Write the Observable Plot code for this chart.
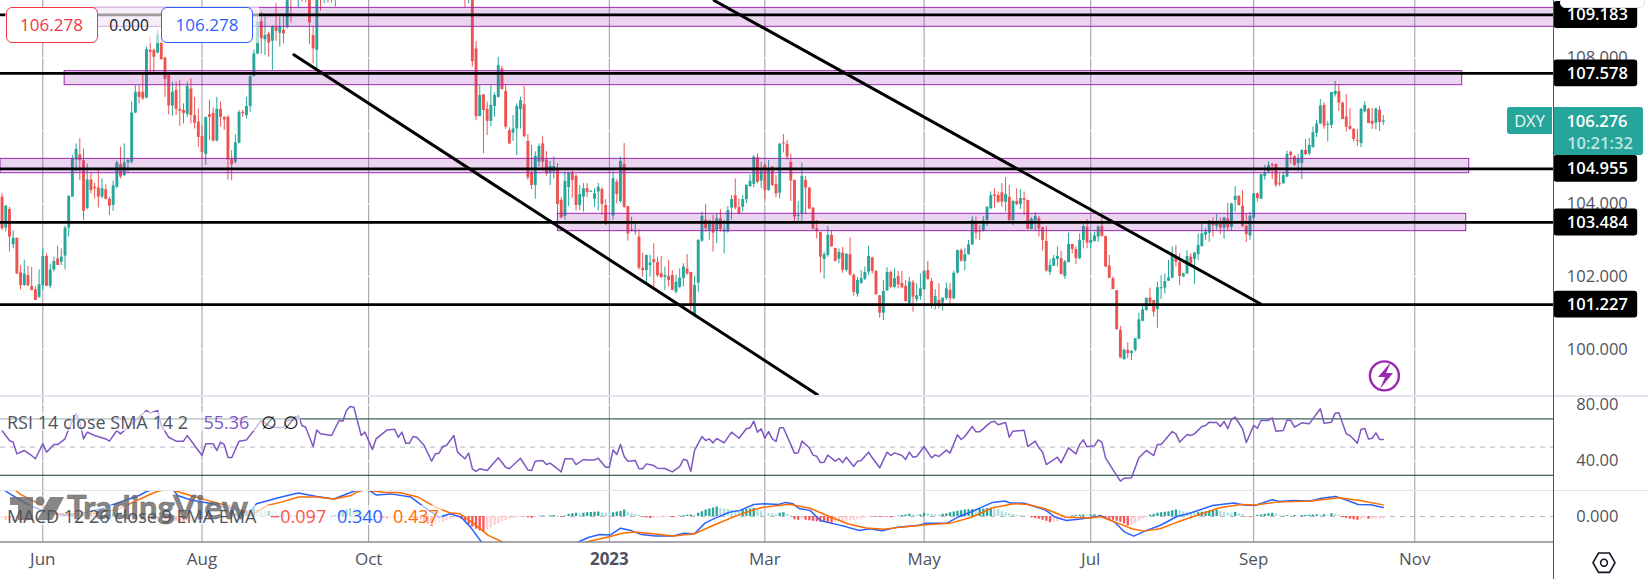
<!DOCTYPE html>
<html><head><meta charset="utf-8">
<script src="https://cdn.jsdelivr.net/npm/d3@7"></script>
<script src="https://cdn.jsdelivr.net/npm/@observablehq/plot@0.6"></script>
<style>
html,body{margin:0;padding:0;background:#fff}
#page{position:relative;width:1648px;height:579px;overflow:hidden;font-family:"Open Sans",sans-serif}
#page svg.plot{display:block}
.ab{position:absolute;white-space:nowrap;line-height:1}
</style></head><body><div id="page"><div id="charts"></div></div>
<script>
// ---- axis and tick data
const firstBar = -11;
const tickBars = [0,43,88,153,195,238,283,327,370.5];
const tickLabels = ["Jun","Aug","Oct","2023","Mar","May","Jul","Sep","Nov"];
const priceTicks = [100,102,104,108];
const rsiTicks = [40,80];
const macdTicks = [0];
const levels = [109.183,107.578,104.955,103.484,101.227];
// bars 80..113 traded above the top of the visible pane
const offView = Array(34).fill(null);
const opens = [
104.18,103.33,103.84,102.87,103.05,102.1,101.75,102.02,101.72,101.63,
101.43,101.75,102.55,101.73,102.18,102.48,102.39,102.56,103.33,104.18,
105.2,105.34,105.18,103.87,104.65,104.45,104.43,104.18,104.38,104.12,
103.95,104.45,105.07,104.77,105.12,105.14,106.49,107.06,107.06,106.9,
108.21,108.21,108.14,108.43,108.0,107.52,106.68,107.11,106.59,106.56,
106.45,107.15,106.42,106.24,105.84,105.35,106.44,106.48,105.72,106.59,
106.37,106.37,105.21,105.14,105.66,106.51,106.42,106.67,107.49,108.11,
109.0,108.5,108.66,108.46,108.85,108.68,108.76,108.83,110.1,109.75,
109.75,110.1,109.9,110,108.62,108.21,110.4,110,110.2,110.1,109.9,
...offView,
110.1,109.9,110.2,108.25,106.39,106.99,106.59,106.26,106.67,106.92,
107.7,107.08,106.01,105.94,106.05,106.58,106.72,105.71,104.84,104.5,
105.14,105.64,105.2,104.84,104.87,104.96,104.09,103.65,104.44,104.84,
104.75,103.95,104.18,104.41,104.33,104.12,104.32,104.39,103.95,null,
103.66,104.59,104.06,105.08,103.92,103.28,103.22,103.08,102.23,102.16,
102.3,102.46,102.38,102.08,101.98,102.0,102.03,101.57,101.7,101.94,
102.2,102.11,100.95,101.82,102.97,103.54,103.26,103.45,103.26,103.58,
103.22,103.22,103.88,104.22,103.89,103.9,104.11,104.47,104.53,105.26,
104.62,105.05,104.36,105.0,104.53,104.29,105.67,105.63,105.13,104.64,
103.66,103.72,104.64,104.43,103.88,103.31,103.21,102.47,102.58,103.13,
102.77,102.47,102.64,102.17,102.6,102.03,101.51,101.81,101.92,102.12,
102.51,102.14,101.47,100.99,101.6,102.11,101.7,102.0,101.81,101.73,
101.25,101.83,101.36,101.45,101.64,102.16,101.86,101.25,101.34,101.27,
101.4,101.62,101.39,102.09,102.71,102.41,102.6,102.87,103.45,103.26,
103.24,103.54,103.86,104.24,104.22,104.3,104.04,104.17,103.54,104.06,
103.97,104.14,104.09,103.29,103.52,103.59,103.34,102.96,102.11,102.28,
102.47,102.49,102.0,102.38,102.88,102.74,102.49,102.99,103.35,102.91,
102.96,103.08,103.37,103.1,102.29,101.94,101.61,100.52,99.72,99.97,
99.88,99.97,100.28,100.77,101.06,101.41,101.34,101.09,101.68,101.68,
101.87,101.95,102.55,102.38,101.98,102.07,102.53,102.47,102.6,102.82,
103.13,103.19,103.47,103.37,103.45,103.33,103.58,103.35,104.09,104.2,
103.93,103.38,103.11,103.6,104.27,104.12,104.75,104.87,105.07,105.08,
104.55,104.55,104.73,105.41,105.29,105.1,105.11,105.46,105.37,105.54,
105.93,106.19,106.7,106.17,106.15,106.99,107.08,106.76,106.38,106.12,
106.04,105.74,105.65,106.52,106.59,106.26,106.21,106.56,106.24];
const closes = [
103.31,103.93,103.08,103.05,102.07,101.75,102.07,101.74,101.61,101.34,
101.77,102.55,101.73,102.18,102.41,102.3,102.53,103.33,104.2,105.23,
105.49,105.18,103.79,104.65,104.36,104.41,104.18,104.41,104.12,103.93,
104.49,105.12,104.73,105.12,105.18,106.49,107.06,106.92,106.88,108.23,
108.16,108.02,108.64,107.96,107.41,106.68,107.06,106.59,106.54,106.48,
107.22,106.42,106.21,105.82,105.41,106.37,106.37,105.72,106.59,106.37,
106.3,105.2,105.07,105.67,106.5,106.47,106.67,107.49,108.11,108.98,
108.53,108.62,108.41,108.85,108.73,108.85,108.66,109.9,109.75,110.0,
109.9,109.8,109.75,108.96,108.25,110.2,110.0,110.3,110.0,109.9,110.5,
...offView,
109.9,110.2,107.9,106.39,106.97,106.56,106.26,106.7,106.97,107.79,
107.13,106.1,105.64,106.05,106.67,106.83,105.84,104.71,104.5,105.3,
105.57,105.14,104.82,105.02,105.02,103.98,103.61,104.61,104.84,104.64,
103.95,104.25,104.41,104.31,104.34,104.27,104.45,103.98,103.43,null,
104.68,104.25,105.16,103.9,103.17,103.24,103.25,102.23,102.16,102.58,
102.37,102.38,102.02,101.97,102.03,101.89,101.62,101.84,101.95,102.26,
102.07,101.2,101.75,102.99,103.65,103.31,103.52,103.19,103.58,103.29,
103.28,103.81,104.11,103.88,103.72,104.11,104.5,104.61,105.28,104.59,
104.89,104.36,104.94,104.5,104.27,105.63,105.66,105.28,104.62,103.63,
103.68,104.75,104.43,103.85,103.3,103.23,102.53,102.6,103.13,102.82,
102.42,102.66,102.17,102.61,102.04,101.56,101.89,101.94,102.11,102.55,
102.14,101.5,100.99,101.59,102.11,101.7,101.94,101.77,101.69,101.31,
101.85,101.43,101.47,101.66,102.14,101.92,101.25,101.45,101.25,101.4,
101.66,101.39,102.09,102.71,102.42,102.6,102.87,103.54,103.19,103.22,
103.52,103.9,104.22,104.2,104.04,104.04,104.25,103.54,104.06,103.97,
104.14,104.09,103.29,103.57,103.65,103.3,102.99,102.15,102.3,102.49,
102.55,102.05,102.4,102.88,102.74,102.49,102.99,103.37,102.92,102.99,
103.11,103.35,103.1,102.26,101.95,101.64,100.54,99.76,99.97,99.88,
99.94,100.29,100.81,101.08,101.4,101.27,101.02,101.69,101.69,101.86,
101.96,102.55,102.39,102.0,102.07,102.55,102.35,102.64,102.85,103.17,
103.22,103.52,103.4,103.49,103.33,103.61,103.34,103.99,104.2,103.95,
103.37,103.15,103.65,104.27,104.14,104.8,104.84,105.04,105.04,104.5,
104.53,104.77,105.35,105.32,105.05,105.23,105.46,105.35,105.6,105.95,
106.19,106.68,106.13,106.18,107.05,107.08,106.76,106.31,106.1,106.04,
105.76,105.73,106.59,106.7,106.2,106.18,106.59,106.23,106.276];
const highs = [
104.27,103.95,103.9,103.26,103.05,102.3,102.45,102.28,102.25,101.72,
102.18,102.76,102.62,102.34,102.53,102.83,102.76,103.38,104.22,105.32,
105.64,105.78,105.5,105.09,104.86,104.56,104.93,104.68,104.52,104.18,
104.62,105.17,105.55,105.64,105.23,106.79,107.24,107.24,107.55,108.3,
108.57,108.25,108.76,108.57,108.02,107.52,107.34,107.34,107.38,106.74,
107.34,107.43,106.92,106.6,106.15,106.37,106.83,106.63,106.92,106.79,
106.39,106.42,105.46,105.89,106.56,106.56,106.92,107.52,108.22,109.21,
109.26,109.12,108.71,108.89,109.49,109.12,109.14,110.0,110.2,110.3,
110.2,110.4,110.2,110.3,108.85,110.5,110.7,110.6,110.5,110.3,110.8,
...offView,
110.4,110.4,110.4,108.45,107.24,106.99,106.79,107.24,107.03,108.02,
107.77,107.24,106.08,106.42,106.74,106.92,107.22,105.9,105.6,105.42,
105.64,105.84,105.43,105.16,105.28,105.1,104.16,104.87,104.87,104.91,
104.8,104.5,104.55,104.55,104.36,104.41,104.56,104.44,104.11,null,
104.87,104.66,105.28,105.65,103.92,103.63,103.45,103.28,102.64,102.58,
102.58,102.9,102.53,102.55,102.26,102.44,102.16,102.03,102.21,102.35,
102.6,102.11,102.0,103.01,103.77,103.98,103.54,103.68,103.72,103.83,
103.54,103.92,104.22,104.68,104.13,104.22,104.52,104.8,105.32,105.37,
105.14,105.09,105.19,105.02,104.77,105.66,105.9,105.74,105.35,104.64,
104.06,105.11,104.75,104.45,103.88,103.54,103.21,102.67,103.37,103.26,
102.77,102.76,102.8,102.62,103.06,102.07,101.98,102.16,102.26,102.83,
102.53,102.16,101.47,101.89,102.24,102.16,102.21,102.14,102.14,101.89,
101.98,101.89,101.8,102.07,102.18,102.41,101.94,101.64,101.8,101.41,
101.82,101.8,102.15,102.72,102.76,102.76,102.99,103.65,103.63,103.4,
103.65,103.92,104.32,104.41,104.32,104.55,104.71,104.5,104.09,104.41,
104.38,104.32,104.09,103.61,103.75,103.65,103.35,103.37,102.46,102.58,
102.81,102.69,102.44,103.19,102.88,102.81,103.17,103.45,103.56,103.17,
103.22,103.4,103.63,103.1,102.58,101.98,101.61,100.63,100.01,100.18,
99.97,100.29,100.99,101.2,101.41,101.68,101.34,101.84,102.03,102.07,
102.44,102.81,102.85,102.62,102.09,102.71,102.62,102.67,103.17,103.45,
103.31,103.54,103.61,103.7,103.61,103.61,104.01,104.01,104.47,104.22,
104.36,103.72,103.76,104.27,104.29,104.8,105.05,105.15,105.1,105.08,
104.82,104.87,105.44,105.44,105.32,105.35,105.48,105.76,105.79,106.1,
106.29,106.86,106.77,106.26,107.06,107.36,107.27,106.79,106.99,106.61,
106.06,106.04,106.61,106.8,106.62,106.61,106.63,106.67,106.42];
const lows = [
103.26,103.22,102.67,102.76,102.05,101.63,101.73,101.73,101.61,101.34,
101.4,101.61,101.73,101.66,102.12,102.3,102.3,102.18,103.08,104.18,
104.86,104.63,103.54,103.83,104.27,104.13,103.88,104.13,104.11,103.67,
103.79,104.41,104.68,104.74,104.82,105.09,106.47,106.74,106.83,106.88,
107.52,107.52,108.11,107.93,106.92,106.44,106.4,106.42,106.13,106.19,
106.37,106.19,106.05,105.55,105.23,105.05,105.73,105.69,105.69,106.1,
106.01,104.65,104.63,105.09,105.64,106.37,106.33,106.51,107.49,108.09,
108.11,108.07,108.02,107.66,108.46,108.3,108.39,108.8,108.96,109.65,
109.38,109.53,109.53,108.37,107.84,107.66,109.29,109.49,109.51,109.51,109.4,
...offView,
109.38,109.49,107.75,106.28,106.39,105.37,105.87,106.12,106.37,106.9,
107.13,106.04,105.62,105.71,105.32,106.05,105.81,104.64,104.38,104.12,
105.0,104.89,104.75,104.5,104.68,103.68,103.58,103.54,103.92,104.15,
103.79,103.81,103.77,104.16,104.32,103.9,103.8,103.68,103.4,null,
103.54,104.0,104.01,103.86,102.97,103.22,103.13,102.17,101.98,101.75,
101.98,101.66,101.98,101.94,101.61,101.71,101.6,101.52,101.66,101.71,
102.03,101.06,100.87,101.57,102.94,103.22,102.99,102.67,102.9,103.22,
102.62,103.19,103.54,103.83,103.7,103.77,104.0,104.44,104.44,104.55,
104.41,104.11,104.34,104.47,104.16,104.13,105.39,105.19,104.06,103.51,
103.52,103.49,103.7,103.83,103.28,103.03,102.09,101.92,102.53,102.8,
102.39,102.35,102.09,102.12,102.01,101.46,101.43,101.78,101.89,102.03,
102.07,101.48,100.85,100.79,101.6,101.66,101.66,101.66,101.66,101.29,
101.23,101.02,101.29,101.34,101.62,101.89,101.11,101.08,101.11,101.05,
101.34,101.25,101.36,102.07,102.39,102.16,102.58,102.85,103.01,102.99,
103.22,103.37,103.84,103.88,104.01,103.9,103.77,103.51,103.4,103.95,
103.84,103.68,103.29,103.28,103.26,103.08,102.7,102.12,102.03,102.28,
102.26,102.05,101.92,102.38,102.62,102.33,102.46,102.76,102.76,102.76,
102.94,102.94,103.08,102.24,101.94,101.63,100.52,99.74,99.69,99.74,
99.69,99.92,100.26,100.75,101.05,101.2,100.88,100.58,101.37,101.52,
101.87,101.94,102.26,101.75,101.98,102.05,102.26,101.78,102.44,102.81,
102.99,102.94,103.08,103.28,103.15,103.02,103.26,103.25,103.77,103.93,
103.35,102.93,102.99,103.45,104.04,104.11,104.64,104.82,104.66,104.44,
104.47,104.53,104.71,105.09,105.02,104.87,104.66,105.32,105.32,105.53,
105.81,106.17,106.04,105.69,106.07,106.93,106.53,106.31,105.97,106.01,
105.69,105.57,105.54,106.49,106.2,106.04,106.03,105.98,106.15];
// ---- supply/demand zones and trend lines (bar, price)
const zoneBar1 = [13.7,5.9,-11.42,139.1];
const zoneBar2 = [408.1,383.3,385.2,384.4];
const zoneTop = [109.378,107.639,105.23,103.721];
const zoneBottom = [108.857,107.254,104.836,103.245];
const trendA = {bars:[67.8,209.2],prices:[108.09,98.75]};
const trendB = {bars:[181.3,328.8],prices:[109.58,101.25]};
// ---- RSI
const rsiBars = [-11,-9,-8,-7,-5,-3,-2,0,1,3,4,6,7,8,9,10,11,12,14,17,18,20,21,23,25,26,28,29,31,32,34,36,38,39,41,43,44,46,47,48,49,50,51,53,55,57,59,61,62,64,65,66,68,69,70,71,73,74,75,78,80,81,82,83,84,86,87,89,90,93,95,96,97,98,99,100,101,103,105,106,107,108,109,111,112,114,115,116,117,118,120,123,125,126,129,131,132,133,135,136,
137,139,140,141,143,144,146,147,149,150,152,153,154,155,156,157,158,160,161,162,163,165,166,168,170,172,173,174,175,176,178,179,180,181,182,184,186,188,190,191,192,193,194,195,196,197,198,199,200,203,204,205,207,208,209,210,211,212,214,215,216,217,219,220,221,223,224,226,228,229,230,232,233,234,235,236,238,240,241,242,244,245,247,248,249,251,252,253,256,257,258,260,261,262,265,266,268,269,270,271,274,275,277,279,280,281,282,284,285,
286,287,288,291,292,294,296,298,300,301,302,305,306,307,309,310,311,313,314,315,317,318,319,320,321,322,324,325,327,328,329,331,332,333,335,336,337,338,340,342,345,346,348,349,350,352,353,355,356,357,358,359,360,361,362];
const rsiValues = [61.8,54.7,53.5,45.2,47.6,44,41.7,52.3,46.4,51.8,51.8,55.8,63,68.9,73.6,67.7,55.8,60.6,58.2,55.8,54.2,61.8,59.4,64.1,68.9,71.3,76,74.1,76,65.3,57,54.2,54.2,58.2,51.1,44,52.3,52.3,47.6,53.5,51.8,42.8,42.4,54.2,55.1,61.8,68.9,65.3,64.1,63.7,64.1,68.9,69.3,72.4,65.3,64.1,50.4,62.2,59.4,58.2,68.9,68.4,76,78.8,78.3,58.2,60.6,48.3,55.8,62.2,62.7,57,60.6,52.8,52.8,57.5,57,51.1,40,45.2,45.7,50.4,51.1,58.2,46.4,41.7,45.7,34.6,32.7,34.6,33.4,42.4,35.7,34.6,42.1,33.8,33.4,40,40.5,37.6,
38.6,34.6,32.4,41.7,41.7,37.6,41.2,40.9,40.9,42.1,35.7,35.7,48,44.7,51.8,43.3,40,40.5,34.6,34.6,38.1,36.9,35,34.8,32.4,36.2,41.4,40.5,32.7,47.6,57.5,54.7,55.8,53,56.1,53,60.6,56.3,63,63.7,68.4,60.6,63,56.3,61,55.8,54,63.7,63.7,45.7,45.9,54.2,49.5,44.3,43.5,39,39.3,44.3,40,41.9,39,42.8,36.2,40,40.5,46.4,42.4,35.3,46.4,44,45.9,44,41.2,46.4,42.8,43.3,50.4,42.4,44.5,43.3,47.8,45.7,58.7,55.4,57.5,64.6,60.8,60.8,67.7,68.4,65.8,67.5,57,61.3,62,50.4,54.2,49.5,46.4,37.6,42.8,38.8,49.5,45.2,51.8,55.1,50.2,50.9,55.1,
53.5,42.4,38.1,25.8,27.9,28.2,42.4,47.6,44,51.8,51.8,61,59.4,53.5,58.9,58.2,59.4,64.6,65.3,67.7,67.5,64.6,68.2,63,69.6,71.3,63,53.3,65.3,63.4,68.9,68.9,70.8,61.3,61.8,69.3,68.9,64.1,67.2,66.5,77.2,67,67.7,74.1,74.3,59.4,58.2,52.8,62.7,63.2,55.8,56.3,60.1,55.4,55.36];
// ---- MACD
const macdBars = [-11,-9,-4,2,6,10,16,26,28,33,35,36.4,40,45,52,56,57.7,64.4,69,74,78.6,83.3,84,87,89,90,94,99.4,103,107,110,113,115.5,118.4,122,130,140,144.7,147.5,150.4,153.2,156,158.9,161.7,165.5,170.3,173,176,178.8,181.6,185.4,188.3,192,194.9,198.7,200.6,202.5,204.4,207.2,210,212.9,216.7,220.5,223.3,226.6,230.9,236.6,238.5,244.2,247,250.8,256.5,259.8,261.2,265,270.7,273.5,276.4,280.2,284.9,285.6,289.4,292.2,294.6,297.9,301.7,306.4,309.3,315.9,321.6,324.4,327.3,332,333.9,337.7,342.4,345.3,349.1,351.9,355.2,358.6,362];
const macdValues = [1.05,.86,.45,.1,.05,.1,.3,.79,.94,1.15,1.05,.79,.62,.5,.25,.15,.48,.73,.88,.75,.66,.91,.95,1.05,.91,.81,.85,.73,.35,-.03,.1,-.03,-.4,-.95,-1.3,-1.5,-1.35,-.95,-.78,-.68,-.7,-.44,-.53,-.68,-.73,-.73,-.63,-.65,-.25,-.06,.16,.23,.45,.48,.45,.53,.48,.29,.23,-.15,-.25,-.38,-.53,-.46,-.54,-.4,-.33,-.25,-.25,-.03,.18,.53,.58,.51,.5,.25,-.03,-.15,-.09,0,.04,-.21,-.59,-.74,-.53,-.34,.01,.1,.41,.51,.43,.41,.63,.56,.6,.58,.69,.75,.63,.45,.44,.34];
const signalBars = [-11,-7.4,-6,0,2.8,5.6,12,20,28.3,31,34,36.4,39.9,46,52,56.8,60.6,64.4,69.1,73.9,78.6,83.3,84.7,87,91.9,96.6,101.3,106,109.9,112.7,116.5,120.3,124,132,140,147,153.2,156.5,159.8,165.5,170.3,176,181.6,188.3,193.9,201.5,207.2,212.9,217.6,222.4,227.1,231.8,238.5,245.1,250.8,256.5,262.2,266,270.7,276.4,283,285.6,290.3,294.1,297.4,301.7,306.4,313,317.8,323.5,327.3,333,342.4,350,355.7,362];
const signalValues = [1.15,.98,.83,.4,.1,.1,.08,.25,.79,.95,1.03,.94,.79,.55,.33,.1,.41,.54,.73,.73,.66,.79,.91,1,.91,.89,.73,.35,.14,.1,-.28,-.71,-.95,-1.3,-1.25,-.95,-.75,-.63,-.58,-.66,-.73,-.65,-.3,.08,.33,.46,.31,-.03,-.28,-.43,-.48,-.4,-.31,-.25,-.03,.33,.48,.45,.29,-.03,-.06,0,-.25,-.46,-.55,-.46,-.21,.1,.33,.45,.43,.54,.58,.7,.6,.437];
const histValues = [
-.12,-.14,-.16,-.18,-.2,-.22,-.24,-.22,-.2,-.2,-.18,
-.16,-.14,-.12,-.1,-.08,-.05,-.02,.02,.05,.08,
.1,.12,.14,.14,.12,.1,.08,.08,.1,.12,
.12,.14,.12,.1,.08,.04,.02,0,-.02,-.03,
-.05,-.08,-.1,-.12,-.14,-.16,-.18,-.2,-.22,-.2,
-.2,-.18,-.16,-.12,-.1,-.08,-.06,-.04,-.02,0,
.02,.05,.1,.15,.2,.22,.25,.28,.25,.22,
.2,.2,.18,.16,.14,.12,.1,.08,.05,.03,
.02,0,-.01,-.02,-.03,-.02,-.01,0,.02,.05,
.1,.18,.25,.3,.28,.2,.12,.08,.05,.02,
-.02,-.05,-.08,-.1,-.1,-.1,-.08,-.05,-.04,-.04,
-.08,-.1,-.12,-.2,-.3,-.38,-.33,-.28,-.22,-.16,
-.1,-.06,-.04,-.1,-.2,-.3,-.4,-.48,-.55,-.58,
-.5,-.42,-.34,-.27,-.2,-.15,-.1,-.07,-.06,-.04,
-.02,-.05,-.07,-.03,.01,.02,.01,
.03,.04,-.02,-.03,.02,
.08,.1,.12,.1,.12,.14,.15,.16,.17,
.14,.12,.1,
.14,.17,.19,.24,
.16,.12,.08,.04,
-.02,-.06,-.08,-.06,-.06,-.04,-.04,-.03,-.05,
-.02,.02,.03,.05,.06,.05,
.12,.18,.24,.28,.32,.36,.3,.28,.26,.24,
.22,.2,.24,.26,.28,.3,.24,.2,.16,.12,.1,.08,.12,.14,.08,.02,
-.12,-.14,-.12,-.14,-.16,-.18,-.2,-.22,-.24,-.26,-.28,-.22,
-.22,-.2,-.18,-.18,-.16,-.12,-.1,-.06,-.03,
-.02,-.03,-.04,-.02,-.03,-.05,-.02,.02,.04,.06,
.08,.06,.05,.06,.12,.1,.08,.07,.06,.08,.1,
.14,.17,.2,.22,.24,.25,.26,.24,.26,.28,.3,.31,
.28,.26,.2,.14,.1,.08,.06,.04,.03,.02,
-.05,-.08,-.1,-.14,-.18,-.24,
-.22,-.2,-.15,-.1,-.05,
.02,.04,.05,.06,.05,.06,.07,.05,
-.02,-.05,-.1,-.14,-.18,-.22,
-.28,-.36,
-.32,-.25,-.18,-.1,-.05,
.05,.08,.12,.14,.16,.18,.22,.24,
.22,.18,.16,.14,.12,
.14,.16,.18,.2,.22,.24,.2,
.16,.13,.12,.15,.1,
.08,-.02,-.03,-.02,
.05,.06,.08,.1,.12,.1,
.04,.03,.03,.02,.04,.02,.04,.05,.05,.06,.07,.05,.07,.04,.1,.08,.05,
-.05,-.08,-.1,-.12,-.14,-.12,-.07,-.1,-.1,-.1,-.1,-.097];

// ---- styles
const UP="#26a69a", DOWN="#ef5350", GRID="#9b99a8", INK="#50535e", PURPLE="#9c27b0";
const FONT='"Open Sans",sans-serif';
const AXIS_BAR = 419.8, TAG_END = 430.7, PANE_END = 408.1;
const x = {type:"linear",domain:[-11.42,PANE_END],axis:null};
const frame = {width:1648,marginLeft:0,marginRight:94.5,marginTop:0,x,style:{fontFamily:FONT,background:"transparent",overflow:"visible"}};

const bars = opens.map((o,k)=>o==null?null:{bar:k+firstBar,o,c:closes[k],h:highs[k],l:lows[k]}).filter(Boolean);
const colorOf = d=>d.c>=d.o?UP:DOWN;
const pMin = 0.028;
const gridX = Plot.ruleX(tickBars,{stroke:GRID,strokeWidth:1});

const main = Plot.plot({...frame,height:396,marginBottom:0,
  y:{domain:[98.703,109.58],axis:null},
  marks:[
    gridX,
    Plot.ruleY([100,102,104,106,108],{stroke:"#fff",strokeWidth:1}),
    Plot.ruleX(bars,{x:"bar",y1:"l",y2:"h",stroke:colorOf,strokeWidth:1,clip:true}),
    Plot.ruleX(bars,{x:"bar",y1:d=>Math.max(d.o,d.c),y2:d=>Math.min(Math.min(d.o,d.c),Math.max(d.o,d.c)-pMin),stroke:colorOf,strokeWidth:2.9,clip:true}),
    Plot.rect(zoneTop,{x1:(d,i)=>zoneBar1[i],x2:(d,i)=>zoneBar2[i],y1:(d,i)=>zoneBottom[i],y2:d=>d,fill:PURPLE,fillOpacity:.2,stroke:PURPLE,strokeWidth:1,clip:true}),
    Plot.ruleY(levels,{stroke:"#000",strokeWidth:2.8}),
    Plot.line(trendA.bars,{x:d=>d,y:(d,i)=>trendA.prices[i],stroke:"#000",strokeWidth:3,clip:true}),
    Plot.line(trendB.bars,{x:d=>d,y:(d,i)=>trendB.prices[i],stroke:"#000",strokeWidth:3,clip:true}),
    Plot.text(priceTicks,{x:()=>AXIS_BAR,y:d=>d,text:d=>d.toFixed(3),fill:INK,fontSize:16.5}),
    Plot.rect(levels,{x1:()=>PANE_END,x2:()=>TAG_END,y1:d=>d-.37,y2:d=>d+.37,fill:"#000",rx:3}),
    Plot.text(levels,{x:()=>AXIS_BAR,y:d=>d,text:d=>d.toFixed(3),fill:"#fff",fontSize:16.5,fontWeight:600}),
    Plot.dot([{bar:362.3,price:99.27}],{x:"bar",y:"price",r:14.5,stroke:PURPLE,strokeWidth:2.4,fill:"none"})
  ]});

const rsiPane = Plot.plot({...frame,height:94,marginBottom:0,
  y:{domain:[19.2,85.9],axis:null},
  marks:[
    gridX,
    Plot.ruleY(rsiTicks,{stroke:"#fff",strokeWidth:1}),
    Plot.ruleY([70,30],{stroke:"#0d3b33",strokeWidth:1}),
    Plot.ruleY([50],{stroke:"#b2b5be",strokeWidth:1,strokeDasharray:"5,5"}),
    Plot.line(rsiBars,{x:d=>d,y:(d,i)=>rsiValues[i],stroke:"#7e57c2",strokeWidth:1.5,clip:true}),
    Plot.text(rsiTicks,{x:()=>AXIS_BAR,y:d=>d,text:d=>d.toFixed(2),fill:INK,fontSize:16.5})
  ]});

const histColor = (v,i)=>{const p=i>0?histValues[i-1]:v; return v>=0?(v>=p?"#26a69a":"#b2dfdb"):(v<p?"#ff5252":"#ffcdd2");};
const macdPane = Plot.plot({...frame,height:89,marginBottom:37.5,
  y:{domain:[-.959,.977],axis:null},
  marks:[
    gridX,
    Plot.ruleY([0],{stroke:"#b2b5be",strokeWidth:1,strokeDasharray:"5,5"}),
    Plot.ruleX(histValues,{x:(d,i)=>i+firstBar,y1:()=>0,y2:d=>d,stroke:(d,i)=>histColor(d,i),strokeWidth:2.3,clip:true}),
    Plot.line(macdBars,{x:d=>d,y:(d,i)=>macdValues[i],stroke:"#2962ff",strokeWidth:1.5,clip:true}),
    Plot.line(signalBars,{x:d=>d,y:(d,i)=>signalValues[i],stroke:"#ff6d00",strokeWidth:1.5,clip:true}),
    Plot.ruleY([-.959],{stroke:INK,strokeWidth:1}),
    Plot.text(macdTicks,{x:()=>AXIS_BAR,y:d=>d,text:d=>d.toFixed(3),fill:INK,fontSize:16.5}),
    Plot.text(tickBars,{filter:d=>d!==153,x:d=>d,frameAnchor:"bottom",dy:23,text:(d,i)=>tickLabels[i],fill:INK,fontSize:17}),
    Plot.text(tickBars,{filter:d=>d===153,x:d=>d,frameAnchor:"bottom",dy:23,text:(d,i)=>tickLabels[i],fill:INK,fontSize:17,fontWeight:700})
  ]});

const charts=document.getElementById("charts");
charts.append(main,rsiPane,macdPane);

// ---- overlays (legend, tags, watermark)
const page=document.getElementById("page");
function box(css,html=""){const e=document.createElement("div");e.className="ab";e.style.cssText=css;e.innerHTML=html;page.append(e);return e;}
// pane separators and price-axis border
box("left:0;top:395px;width:1648px;height:2px;background:#e0e3eb");
box("left:0;top:489.5px;width:1648px;height:1.5px;background:#e0e3eb");
box("left:1553px;top:0;width:1px;height:579px;background:"+INK);
// order-line legend
box("left:5px;top:7px;width:254px;height:36px;background:rgba(255,255,255,.62)");
box("left:5.5px;top:7px;width:90px;height:34px;background:#fff;border:1px solid #f23645;border-radius:6px;color:#f23645;font-size:17px;text-align:center;line-height:34px","106.278");
box("left:107px;top:7px;width:44px;height:36px;color:#131722;font-size:15.5px;text-align:center;line-height:36px","0.000");
box("left:161px;top:7px;width:90px;height:34px;background:#fff;border:1px solid #2962ff;border-radius:6px;color:#2962ff;font-size:17px;text-align:center;line-height:34px","106.278");
// top right button
box("left:1560px;top:-8px;width:83px;height:14px;background:#fff;border:1px solid #e0e3eb;border-radius:5px");
// last price tag
box("left:1507px;top:107px;width:45px;height:27px;background:#26a69a;border-radius:3px 0 0 3px;color:#e8f6f4;font-size:16.5px;text-align:center;line-height:27px","DXY");
box("left:1553.5px;top:107px;width:89.5px;height:48px;background:#26a69a;border-radius:0 3px 3px 0");
box("left:1553.5px;top:110px;width:87px;color:#fff;font-size:16.5px;font-weight:600;text-align:center;line-height:22px","106.276");
box("left:1553.5px;top:132px;width:93px;color:#bfe5e1;font-size:16.5px;font-weight:600;text-align:center;line-height:22px","10:21:32");
// RSI legend
box("left:0;top:411.5px;width:300px;height:19px;background:rgba(255,255,255,.6)");
box("left:7px;top:412px;color:"+INK+";font-size:18px;line-height:20px","RSI 14 close SMA 14 2");
box("left:203.5px;top:412px;color:#7e57c2;font-size:18px;line-height:20px","55.36");
box("left:261px;top:412px;color:#131722;font-size:18px;line-height:20px","∅");
box("left:283px;top:412px;color:#131722;font-size:18px;line-height:20px","∅");
// MACD legend + watermark
box("left:0;top:505px;width:442px;height:20px;background:rgba(255,255,255,.6)");
const ns="http://www.w3.org/2000/svg";
const wrap=box("left:0;top:0;width:1648px;height:579px;pointer-events:none",`<svg xmlns="${ns}" width="1648" height="579" style="display:block">
 <g fill="#6b6b6b" fill-opacity=".82">
  <path d="M10 497H33V520H18V505H10Z"/><circle cx="40" cy="501" r="4.5"/><path d="M50 497H64L52 520H37Z"/>
  <text x="67" y="519" font-family="Lato,sans-serif" font-weight="700" font-size="33" stroke="#6b6b6b" stroke-width=".6" textLength="181" lengthAdjust="spacingAndGlyphs">TradingView</text>
 </g>
 <path d="M1391 362 1378 377H1385L1380 389 1393 373H1386Z" fill="${PURPLE}"/>
 <path d="M1593 562.7 1598.5 553H1609.5L1615 562.7 1609.5 572.4H1598.5Z" fill="none" stroke="#131722" stroke-width="1.6"/>
 <circle cx="1604" cy="562.7" r="3.4" fill="none" stroke="#131722" stroke-width="1.6"/>
</svg>`);
box("left:7px;top:506px;color:"+INK+";font-size:18px;line-height:20px","MACD 12 26 close 9 EMA EMA");
box("left:270px;top:506px;color:#ff5252;font-size:18px;line-height:20px","−0.097");
box("left:337px;top:506px;color:#2962ff;font-size:18px;line-height:20px","0.340");
box("left:393px;top:506px;color:#ff6d00;font-size:18px;line-height:20px","0.437");
</script></body></html>
